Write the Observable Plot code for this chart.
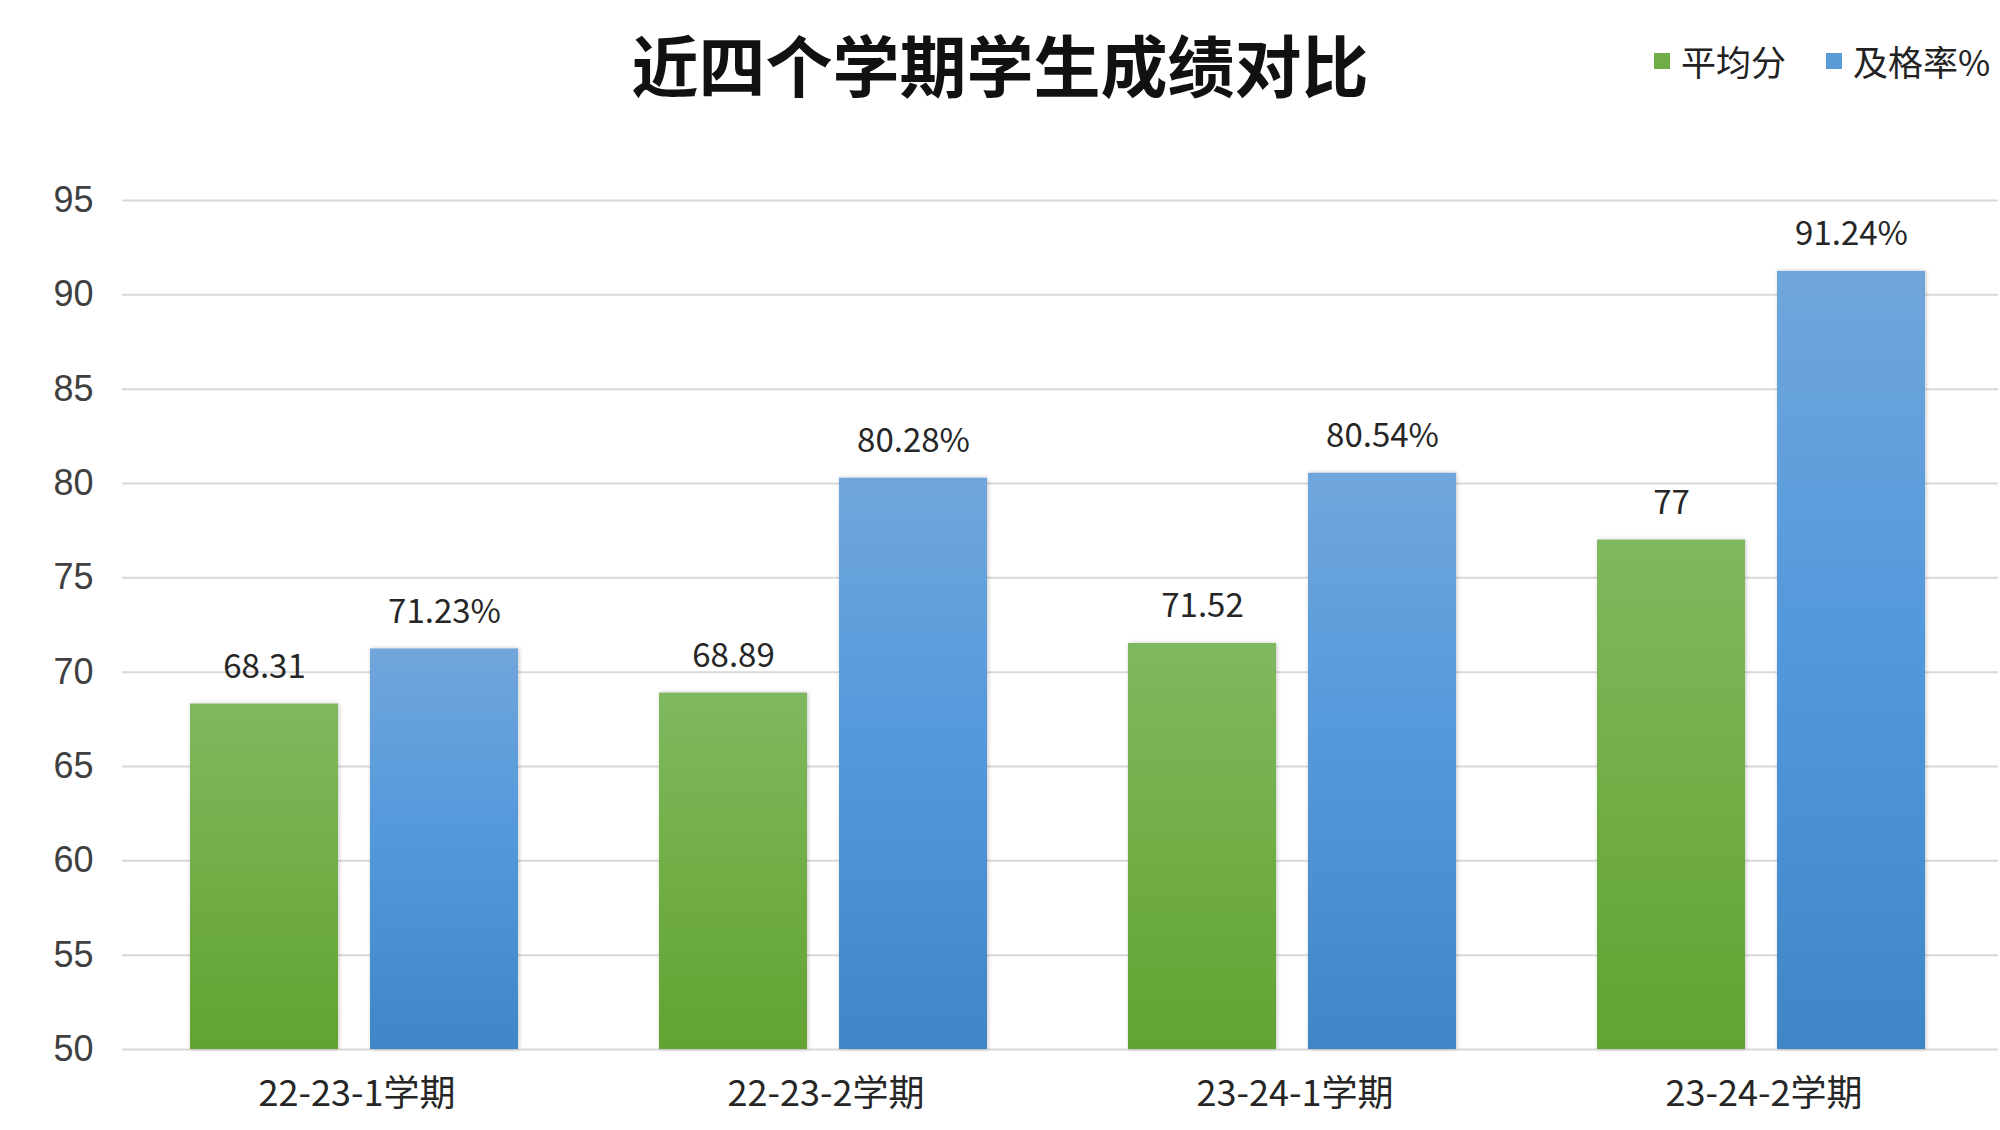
<!DOCTYPE html>
<html>
<head>
<meta charset="utf-8">
<script src="https://cdn.jsdelivr.net/npm/d3@7"></script>
<script src="https://cdn.jsdelivr.net/npm/@observablehq/plot@0.6"></script>
<style>
  html, body { margin: 0; padding: 0; background: #fff; }
  #wrap { position: relative; width: 2000px; height: 1130px; overflow: hidden; background: #fff; }
  #title { position: absolute; left: 0; top: 18px; width: 2000px; text-align: center;
    font-family: "Noto Sans CJK SC", sans-serif; font-weight: 700; font-size: 67px; line-height: 90px; color: #111; }
  #legend { position: absolute; top: 36px; left: 1654px; display: flex; align-items: center; white-space: nowrap;
    font-family: "Noto Sans CJK SC", sans-serif; font-size: 35px; line-height: 50px; color: #222; }
  #legend .item { display: flex; align-items: center; margin-right: 40px; white-space: nowrap; }
  #legend .sw { width: 16px; height: 16px; margin-right: 11px; flex: none; }
  #chart { position: absolute; left: 0; top: 120px; }
</style>
</head>
<body>
<div id="wrap">
  <div id="title">近四个学期学生成绩对比</div>
  <div id="legend"></div>
  <div id="chart"></div>
</div>
<script>
const semesters = ["22-23-1学期", "22-23-2学期", "23-24-1学期", "23-24-2学期"];
const seriesNames = ["平均分", "及格率%"];
const avgScore = [68.31, 68.89, 71.52, 77];
const passRate = [71.23, 80.28, 80.54, 91.24];
const passRateLabels = ["71.23%", "80.28%", "80.54%", "91.24%"];
const avgLabels = ["68.31", "68.89", "71.52", "77"];
const yDomain = [50, 95];
const yTicks = [50, 55, 60, 65, 70, 75, 80, 85, 90, 95];
const seriesColors = ["#70AD47", "#5B9BD5"];
const gradientIds = ["gGreen", "gBlue"];

const data = [];
semesters.forEach((s, i) => {
  data.push({semester: s, series: seriesNames[0], value: avgScore[i], label: avgLabels[i]});
  data.push({semester: s, series: seriesNames[1], value: passRate[i], label: passRateLabels[i]});
});

const chart = Plot.plot({
  width: 2000,
  height: 1010,
  marginLeft: 121,
  marginRight: 1,
  marginTop: 80,
  marginBottom: 81,
  style: {background: "transparent"},
  fx: {domain: semesters, padding: 0, label: null},
  x: {domain: seriesNames, paddingInner: 0.18, paddingOuter: 0.39, align: 0.48, axis: null},
  y: {domain: yDomain, ticks: yTicks, label: null},
  marks: [
    Plot.gridY(yTicks, {stroke: "#d9d9d9", strokeOpacity: 1, strokeWidth: 2}),
    Plot.axisY(yTicks, {tickSize: 0, tickPadding: 29, fontSize: 36,
      fontFamily: "Liberation Sans, Arial, sans-serif", fill: "#404040", label: null}),
    Plot.axisFx({anchor: "bottom", tickSize: 0, tickPadding: 31, fontSize: 36,
      fontFamily: "Noto Sans CJK SC, sans-serif", fill: "#262626", label: null}),
    Plot.barY(data, {
      fx: "semester", x: "series", y1: yDomain[0], y2: "value",
      fill: d => `url(#${gradientIds[seriesNames.indexOf(d.series)]})`
    }),
    Plot.text(data, {
      fx: "semester", x: "series", y: "value", text: "label",
      dy: -26, lineAnchor: "bottom", fontSize: 33,
      fontFamily: "Noto Sans CJK SC, sans-serif", fill: "#262626"
    })
  ]
});

// gradients
const svg = d3.select(chart);
const defs = svg.insert("defs", ":first-child");
const grads = [
  {id: "gGreen", stops: ["#80B860", "#72AF48", "#62A333"]},
  {id: "gBlue", stops: ["#70A6DB", "#5499DC", "#3F86C7"]}
];
grads.forEach(g => {
  const lg = defs.append("linearGradient").attr("id", g.id)
    .attr("x1", 0).attr("y1", 0).attr("x2", 0).attr("y2", 1);
  lg.append("stop").attr("offset", "0%").attr("stop-color", g.stops[0]);
  lg.append("stop").attr("offset", "45%").attr("stop-color", g.stops[1]);
  lg.append("stop").attr("offset", "100%").attr("stop-color", g.stops[2]);
});
svg.selectAll("rect").each(function() {
  const f = this.getAttribute("fill");
  if (f && f.startsWith("url(")) this.setAttribute("style", "filter: drop-shadow(1px 0px 2px rgba(0,0,0,0.22))");
});

document.getElementById("chart").appendChild(chart);

const legend = document.getElementById("legend");
seriesNames.forEach((name, i) => {
  const item = document.createElement("div");
  item.className = "item";
  const sw = document.createElement("div");
  sw.className = "sw";
  sw.style.background = seriesColors[i];
  const t = document.createElement("span");
  t.textContent = name;
  item.appendChild(sw);
  item.appendChild(t);
  legend.appendChild(item);
});
</script>
</body>
</html>
